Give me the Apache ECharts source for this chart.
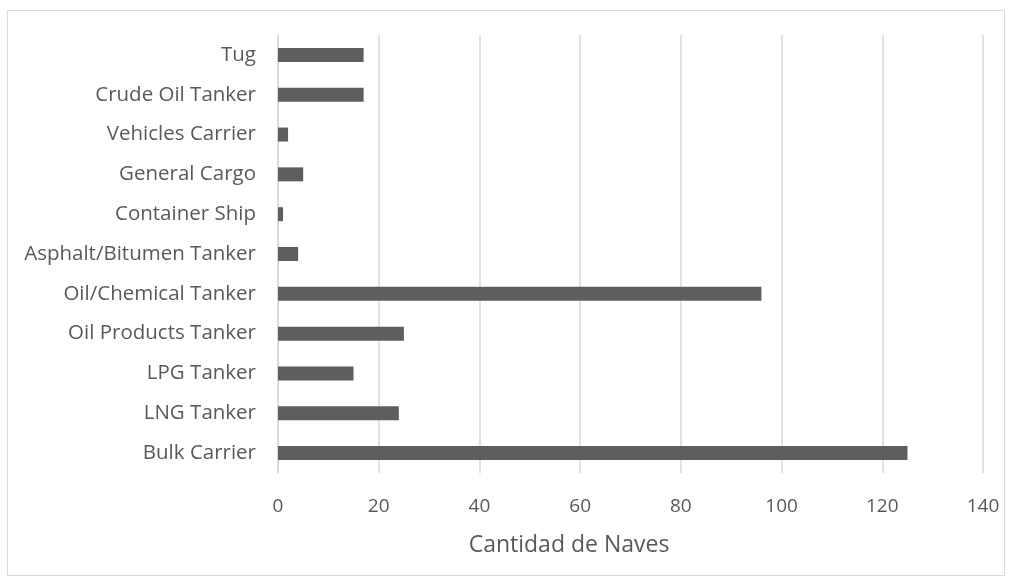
<!DOCTYPE html>
<html lang="en">
<head>
    <meta charset="UTF-8">
    <title>Cantidad de Naves</title>
    <style>
        html, body { margin: 0; padding: 0; background: #fff; }
        #frame {
            position: absolute;
            left: 7px; top: 10px;
            width: 998px; height: 566px;
            border: 1px solid #d9d9d9;
            box-sizing: border-box;
        }
        #chart { position: absolute; left: 0; top: 0; width: 1015px; height: 580px; }
    </style>
</head>
<body>
<div id="frame"></div>
<div id="chart"></div>
<script src="https://cdn.jsdelivr.net/npm/echarts@6/dist/echarts.min.js"></script>
<script>
    // categorias de abajo hacia arriba
    var tipos = ['Bulk Carrier', 'LNG Tanker', 'LPG Tanker', 'Oil Products Tanker', 'Oil/Chemical Tanker',
        'Asphalt/Bitumen Tanker', 'Container Ship', 'General Cargo', 'Vehicles Carrier', 'Crude Oil Tanker', 'Tug'];
    var naves = [125, 24, 15, 25, 96, 4, 1, 5, 2, 17, 17];
    var ejeX = { min: 0, max: 140, interval: 20 };
    var tituloEje = 'Cantidad de Naves';

    var fuente = '"Open Sans", sans-serif';
    var option = {
        animation: false,
        // titulo del eje X, centrado en el area del grafico (como Excel)
        title: {
            text: tituloEje,
            left: 564,
            top: 529,
            textAlign: 'center',
            textStyle: { color: '#595959', fontSize: 23, fontWeight: 'normal', fontFamily: fuente }
        },
        grid: { left: 278, right: 32, top: 35, bottom: 107 },
        xAxis: {
            type: 'value',
            min: ejeX.min, max: ejeX.max, interval: ejeX.interval,
            axisLine: { show: false },
            axisTick: { show: false },
            axisLabel: { color: '#595959', fontSize: 19, fontFamily: fuente, margin: 24 },
            splitLine: { lineStyle: { color: '#d9d9d9', width: 1.5 } }
        },
        yAxis: {
            type: 'category',
            data: tipos,
            axisLine: { lineStyle: { color: '#d9d9d9', width: 1.5 } },
            axisTick: { show: false },
            axisLabel: { color: '#595959', fontSize: 20.5, fontFamily: fuente, margin: 22 }
        },
        series: [{
            type: 'bar',
            data: naves,
            barWidth: 14,
            itemStyle: { color: '#5e5e5e' }
        }]
    };

    var myChart = echarts.init(document.getElementById('chart'));
    myChart.setOption(option);
    window.onresize = function () {
        myChart.resize();
    };
</script>
</body>
</html>
